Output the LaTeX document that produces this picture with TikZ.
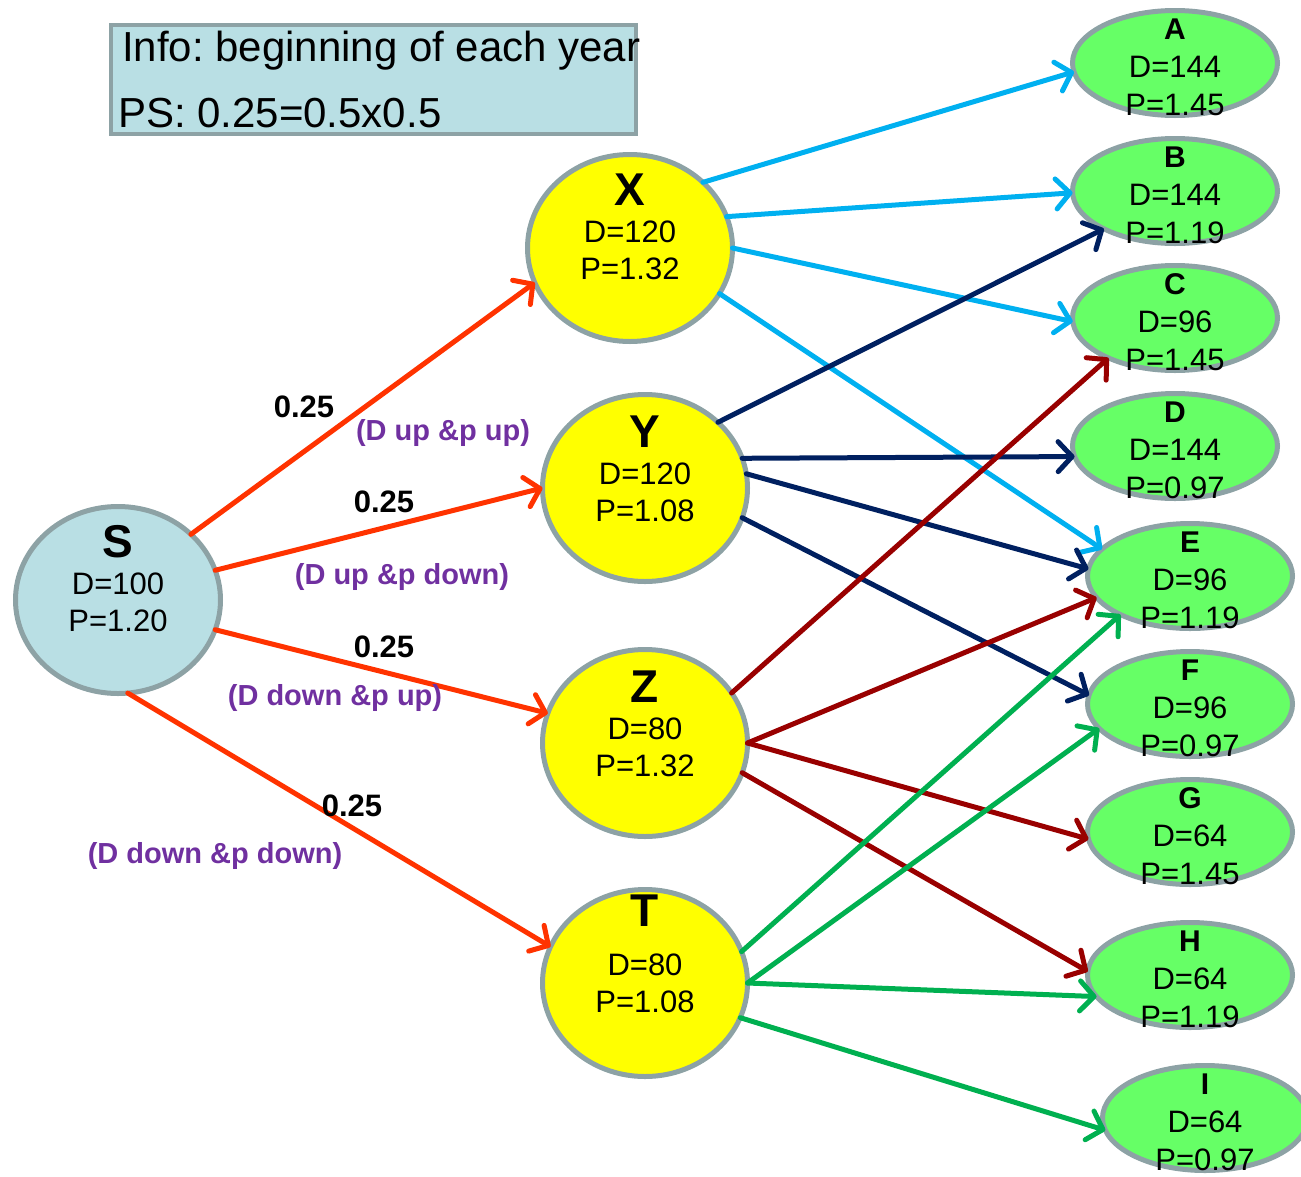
\documentclass[tikz,border=0pt]{standalone}
\usepackage{fontspec}
\setmainfont{Liberation Sans}
\usetikzlibrary{arrows.meta,shapes.geometric}
\definecolor{bordergray}{HTML}{8DA2A5}
\definecolor{sblue}{HTML}{B9DFE4}
\definecolor{leafgreen}{HTML}{66FF66}
\definecolor{nodeyellow}{HTML}{FFFF00}
\definecolor{redor}{HTML}{FF3300}
\definecolor{cyanarr}{HTML}{00B0F0}
\definecolor{navyarr}{HTML}{002060}
\definecolor{darkredarr}{HTML}{990000}
\definecolor{greenarr}{HTML}{00B050}
\definecolor{casepurple}{HTML}{7030A0}
\frenchspacing
\begin{document}
\begin{tikzpicture}[x=1pt,y=-1pt,
  every node/.style={inner sep=0pt, outer sep=0pt},
  bignode/.style={ellipse, draw=bordergray, line width=5pt, fill=nodeyellow, minimum width=205pt, minimum height=187pt},
  leaf/.style={ellipse, draw=bordergray, line width=5pt, fill=leafgreen, minimum width=205pt, minimum height=105pt},
  bigtxt/.style={align=center, font=\fontsize{31}{37}\selectfont},
  leaftxt/.style={align=center, font=\fontsize{31}{38}\selectfont},
  arr/.style={line width=5pt, line cap=round, -{Straight Barb[length=14pt,width=30pt,line cap=round,line join=round]}},
  prob/.style={font=\fontsize{31}{31}\selectfont\bfseries},
  case/.style={font=\fontsize{29}{29}\selectfont\bfseries, text=casepurple},
  infotxt/.style={anchor=base west, font=\fontsize{42}{42}\selectfont}
]
\useasboundingbox (0,0) rectangle (1301,1176);

% info box
\node[draw=bordergray, line width=4pt, fill=sblue, minimum width=525pt, minimum height=109pt, anchor=north west] (info) at (111,25) {};
\node[infotxt] (info1) at (122,61) {Info: beginning of each year};
\node[infotxt] (info2) at (118,127) {PS: 0.25=0.5x0.5};

% root
\node[bignode, fill=sblue] (S) at (118,600) {};
\node[bigtxt, yshift=21pt] (St) at (S.center) {{\fontsize{46}{46}\selectfont\bfseries S}\\D=100\\P=1.20};

% middle
\node[bignode] (X) at (630,248) {};
\node[bignode] (Y) at (645,488) {};
\node[bignode] (Z) at (645,743) {};
\node[bignode] (T) at (645,983) {};
\node[bigtxt, yshift=21pt] (Xt) at (X.center) {{\fontsize{46}{46}\selectfont\bfseries X}\\D=120\\P=1.32};
\node[bigtxt, yshift=19pt] (Yt) at (Y.center) {{\fontsize{46}{46}\selectfont\bfseries Y}\\D=120\\P=1.08};
\node[bigtxt, yshift=19pt] (Zt) at (Z.center) {{\fontsize{46}{46}\selectfont\bfseries Z}\\D=80\\P=1.32};
\node[bigtxt, yshift=29pt] (Tt) at (T.center) {{\fontsize{46}{46}\selectfont\bfseries T}\\[12pt]D=80\\P=1.08};

% leaves
\foreach \n/\x/\y/\d/\p in {A/1175/63/144/1.45, B/1175/191/144/1.19, C/1175/318/96/1.45, D/1175/446/144/0.97,
  E/1190/576/96/1.19, F/1190/704/96/0.97, G/1190/832/64/1.45, H/1190/975/64/1.19, I/1205/1118/64/0.97}{
  \node[leaf] (\n) at (\x,\y) {};
  \node[leaftxt, yshift=-4pt] (\n t) at (\n.center) {{\fontsize{30}{30}\selectfont\bfseries \n}\\D=\d\\P=\p};
}

% arrows from S
\draw[arr, redor] (S.42.6) -- (X.-160);
\draw[arr, redor] (S.17) -- (Y.180);
\draw[arr, redor] (S.-17) -- (Z.163.4);
\draw[arr, redor] (S.-84.7) -- (T.159.7);

% from X
\draw[arr, cyanarr] (X.42.2) -- (A.-175.2);
\draw[arr, cyanarr] (X.18.9) -- (B.-179.5);
\draw[arr, cyanarr] (X.0) -- (C.-178.9);
\draw[arr, cyanarr] (X.-27.6) -- (E.163.9);

% from Y
\draw[arr, navyarr] (Y.42.2) -- (B.-152);
\draw[arr, navyarr] (Y.17) -- (D.-174.7);
\draw[arr, navyarr] (Y.8.7) -- (E.176.7);
\draw[arr, navyarr] (Y.-17) -- (F.175.1);

% from Z
\draw[arr, darkredarr] (Z.30.5) -- (C.-149.6);
\draw[arr, darkredarr] (Z.0) -- (E.-167.1);
\draw[arr, darkredarr] (Z.0) -- (G.-176.7);
\draw[arr, darkredarr] (Z.-17) -- (H.178.4);

% from T
\draw[arr, greenarr] (T.18.4) -- (E.-151.4);
\draw[arr, greenarr] (T.0) -- (F.-165);
\draw[arr, greenarr] (T.0) -- (H.-167.6);
\draw[arr, greenarr] (T.-20.7) -- (I.-173.5);

% labels
\node[prob] (p1) at (304,407) {0.25};
\node[prob] (p2) at (384,502) {0.25};
\node[prob] (p3) at (384,647) {0.25};
\node[prob] (p4) at (352,806) {0.25};
\node[case] (c1) at (443,433) {(D up \&p up)};
\node[case] (c2) at (402,577) {(D up \&p down)};
\node[case] (c3) at (335,698) {(D down \&p up)};
\node[case] (c4) at (215,856) {(D down \&p down)};
\end{tikzpicture}
\end{document}
